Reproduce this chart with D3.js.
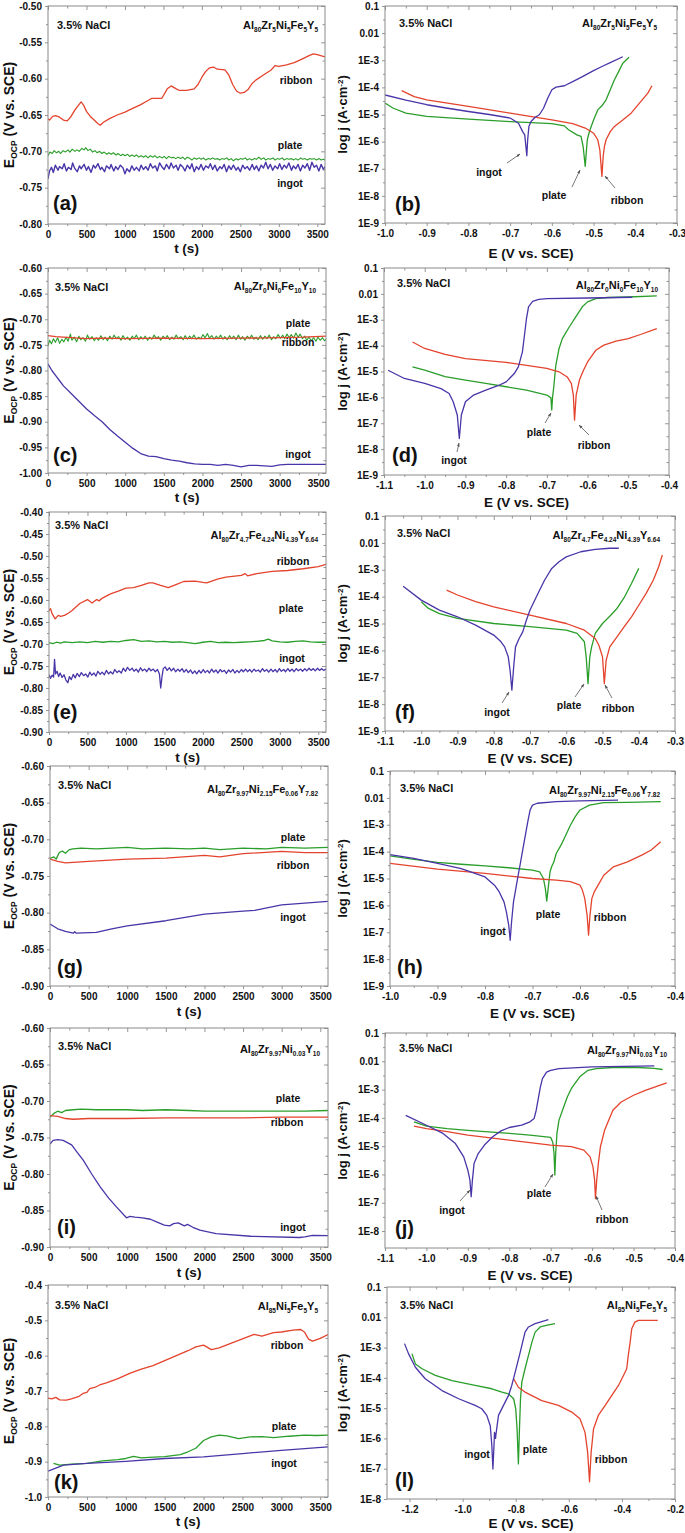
<!DOCTYPE html>
<html><head><meta charset="utf-8">
<script src="https://cdn.jsdelivr.net/npm/d3@7"></script>
<style>
body{margin:0;background:#fff;}
svg{display:block;}
</style></head><body>
<svg id="c" width="685" height="1533"></svg>
<script>
// ---------------- DATA ----------------
const series = ["ribbon","plate","ingot"];
const tTicks = [0,500,1000,1500,2000,2500,3000,3500];
const tMinor = [250,750,1250,1750,2250,2750,3250];

// (a) Al80Zr5Ni5Fe5Y5 OCP  [t (s), E (V)]
const aRibbon = [[0,-0.655],[20,-0.657],[60,-0.652],[100,-0.651],[150,-0.653],[200,-0.657],[250,-0.658],[300,-0.652],[350,-0.643],[400,-0.636],[430,-0.632],[460,-0.636],[500,-0.645],[550,-0.652],[600,-0.657],[650,-0.662],[680,-0.664],[720,-0.660],[800,-0.655],[900,-0.650],[1000,-0.646],[1100,-0.641],[1200,-0.636],[1300,-0.630],[1350,-0.627],[1400,-0.627],[1480,-0.627],[1550,-0.614],[1600,-0.610],[1650,-0.613],[1700,-0.616],[1800,-0.616],[1900,-0.614],[1950,-0.608],[2000,-0.598],[2050,-0.590],[2100,-0.585],[2150,-0.584],[2200,-0.587],[2300,-0.588],[2350,-0.595],[2400,-0.608],[2450,-0.617],[2500,-0.620],[2550,-0.619],[2600,-0.615],[2650,-0.607],[2700,-0.602],[2800,-0.595],[2900,-0.588],[2950,-0.582],[3000,-0.583],[3050,-0.582],[3100,-0.581],[3200,-0.578],[3300,-0.573],[3400,-0.568],[3450,-0.566],[3500,-0.567],[3600,-0.570]];
const aPlate = [[0,-0.706],[25,-0.701],[55,-0.703],[80,-0.699],[110,-0.702],[140,-0.700],[165,-0.703],[195,-0.699],[225,-0.701],[260,-0.698],[285,-0.701],[315,-0.697],[350,-0.700],[375,-0.698],[405,-0.700],[440,-0.696],[470,-0.698],[490,-0.695],[520,-0.699],[550,-0.697],[580,-0.701],[610,-0.699],[640,-0.702],[670,-0.700],[700,-0.703],[730,-0.701],[765,-0.704],[790,-0.702],[820,-0.704],[850,-0.702],[885,-0.705],[910,-0.703],[945,-0.706],[970,-0.704],[1000,-0.706],[1035,-0.704],[1060,-0.707],[1090,-0.705],[1125,-0.707],[1150,-0.705],[1180,-0.708],[1210,-0.706],[1245,-0.708],[1270,-0.706],[1300,-0.709],[1330,-0.706],[1365,-0.708],[1390,-0.706],[1420,-0.709],[1450,-0.707],[1485,-0.709],[1510,-0.707],[1540,-0.710],[1570,-0.707],[1605,-0.709],[1630,-0.708],[1660,-0.710],[1690,-0.708],[1725,-0.710],[1750,-0.708],[1780,-0.711],[1810,-0.708],[1845,-0.710],[1870,-0.712],[1900,-0.709],[1930,-0.711],[1965,-0.709],[1990,-0.711],[2020,-0.709],[2050,-0.712],[2085,-0.710],[2110,-0.711],[2140,-0.709],[2170,-0.711],[2205,-0.710],[2230,-0.712],[2260,-0.710],[2290,-0.711],[2325,-0.709],[2350,-0.712],[2380,-0.710],[2410,-0.713],[2445,-0.710],[2470,-0.712],[2500,-0.710],[2530,-0.711],[2565,-0.709],[2590,-0.712],[2620,-0.710],[2650,-0.712],[2685,-0.710],[2710,-0.711],[2740,-0.708],[2770,-0.711],[2805,-0.709],[2830,-0.712],[2860,-0.710],[2890,-0.711],[2925,-0.709],[2950,-0.712],[2980,-0.710],[3010,-0.711],[3045,-0.709],[3070,-0.712],[3100,-0.710],[3130,-0.711],[3165,-0.710],[3190,-0.712],[3220,-0.710],[3250,-0.712],[3285,-0.709],[3310,-0.711],[3340,-0.710],[3370,-0.712],[3405,-0.710],[3430,-0.711],[3460,-0.710],[3490,-0.712],[3525,-0.710],[3550,-0.712],[3580,-0.711],[3600,-0.712]];
const aIngot = [[0,-0.738],[20,-0.727],[45,-0.722],[70,-0.729],[95,-0.719],[130,-0.726],[150,-0.721],[185,-0.724],[210,-0.717],[240,-0.727],[265,-0.722],[300,-0.725],[320,-0.716],[345,-0.723],[380,-0.728],[410,-0.720],[430,-0.724],[470,-0.718],[500,-0.726],[525,-0.721],[560,-0.729],[590,-0.719],[615,-0.723],[650,-0.717],[680,-0.725],[700,-0.722],[735,-0.728],[760,-0.720],[800,-0.724],[820,-0.718],[855,-0.727],[880,-0.721],[910,-0.725],[940,-0.719],[975,-0.723],[1000,-0.731],[1025,-0.724],[1060,-0.728],[1090,-0.720],[1120,-0.726],[1150,-0.722],[1185,-0.727],[1210,-0.719],[1240,-0.725],[1270,-0.721],[1300,-0.726],[1330,-0.717],[1360,-0.723],[1395,-0.720],[1420,-0.727],[1450,-0.716],[1485,-0.722],[1510,-0.725],[1540,-0.718],[1575,-0.724],[1600,-0.716],[1630,-0.723],[1665,-0.719],[1690,-0.726],[1720,-0.718],[1755,-0.722],[1780,-0.727],[1810,-0.719],[1845,-0.724],[1870,-0.717],[1900,-0.728],[1930,-0.721],[1960,-0.725],[1990,-0.718],[2020,-0.726],[2050,-0.720],[2085,-0.723],[2110,-0.717],[2140,-0.725],[2170,-0.719],[2200,-0.727],[2235,-0.721],[2260,-0.724],[2290,-0.718],[2320,-0.728],[2350,-0.720],[2380,-0.725],[2410,-0.719],[2445,-0.726],[2470,-0.722],[2500,-0.728],[2530,-0.719],[2560,-0.724],[2590,-0.721],[2620,-0.726],[2655,-0.718],[2680,-0.725],[2710,-0.720],[2740,-0.727],[2770,-0.719],[2800,-0.723],[2830,-0.715],[2860,-0.724],[2890,-0.718],[2920,-0.726],[2950,-0.720],[2985,-0.724],[3010,-0.717],[3040,-0.725],[3070,-0.719],[3100,-0.723],[3130,-0.716],[3165,-0.726],[3190,-0.720],[3220,-0.724],[3250,-0.718],[3280,-0.727],[3310,-0.719],[3340,-0.723],[3370,-0.717],[3400,-0.726],[3430,-0.715],[3460,-0.722],[3490,-0.719],[3520,-0.727],[3550,-0.718],[3580,-0.725],[3600,-0.721]];

// (c) Al80Zr0Ni0Fe10Y10 OCP
const cRibbon = [[0,-0.732],[100,-0.734],[200,-0.735],[300,-0.736],[500,-0.738],[700,-0.737],[1000,-0.738],[1500,-0.737],[2000,-0.738],[2500,-0.737],[3000,-0.736],[3300,-0.735],[3600,-0.733]];
const cPlate = [[0,-0.752],[20,-0.741],[45,-0.748],[70,-0.738],[95,-0.745],[125,-0.736],[150,-0.747],[180,-0.739],[205,-0.744],[235,-0.735],[260,-0.743],[290,-0.729],[310,-0.741],[340,-0.735],[370,-0.744],[400,-0.733],[425,-0.740],[455,-0.736],[485,-0.743],[510,-0.731],[540,-0.739],[570,-0.734],[600,-0.742],[625,-0.736],[655,-0.741],[685,-0.732],[715,-0.740],[740,-0.735],[770,-0.742],[800,-0.733],[830,-0.739],[855,-0.731],[885,-0.738],[915,-0.734],[945,-0.741],[970,-0.732],[1000,-0.739],[1030,-0.735],[1060,-0.741],[1090,-0.733],[1115,-0.738],[1145,-0.731],[1175,-0.740],[1200,-0.734],[1230,-0.739],[1260,-0.733],[1290,-0.741],[1315,-0.735],[1345,-0.739],[1375,-0.731],[1405,-0.738],[1430,-0.734],[1460,-0.741],[1490,-0.733],[1520,-0.738],[1545,-0.732],[1575,-0.740],[1605,-0.735],[1630,-0.739],[1660,-0.731],[1690,-0.738],[1720,-0.734],[1750,-0.740],[1775,-0.732],[1805,-0.739],[1835,-0.733],[1860,-0.738],[1890,-0.731],[1920,-0.739],[1950,-0.735],[1980,-0.738],[2005,-0.730],[2035,-0.736],[2065,-0.728],[2090,-0.737],[2120,-0.732],[2150,-0.739],[2180,-0.733],[2205,-0.738],[2235,-0.731],[2265,-0.739],[2290,-0.734],[2320,-0.740],[2350,-0.732],[2380,-0.738],[2405,-0.733],[2435,-0.740],[2465,-0.731],[2495,-0.739],[2520,-0.734],[2550,-0.741],[2580,-0.733],[2610,-0.738],[2635,-0.731],[2665,-0.739],[2695,-0.735],[2720,-0.740],[2750,-0.732],[2780,-0.739],[2810,-0.733],[2835,-0.738],[2865,-0.731],[2895,-0.740],[2920,-0.734],[2950,-0.738],[2980,-0.730],[3010,-0.737],[3040,-0.731],[3065,-0.738],[3095,-0.729],[3125,-0.736],[3150,-0.730],[3180,-0.737],[3210,-0.727],[3240,-0.735],[3265,-0.729],[3295,-0.738],[3325,-0.733],[3350,-0.741],[3380,-0.735],[3410,-0.742],[3440,-0.736],[3470,-0.743],[3495,-0.735],[3525,-0.741],[3555,-0.736],[3580,-0.742],[3600,-0.739]];
const cIngot = [[0,-0.787],[50,-0.800],[100,-0.810],[150,-0.820],[200,-0.830],[300,-0.845],[400,-0.860],[500,-0.875],[600,-0.888],[700,-0.900],[800,-0.915],[900,-0.928],[1000,-0.940],[1100,-0.952],[1200,-0.962],[1300,-0.967],[1400,-0.968],[1500,-0.972],[1600,-0.975],[1700,-0.977],[1800,-0.980],[1900,-0.982],[2000,-0.983],[2100,-0.983],[2200,-0.985],[2300,-0.983],[2400,-0.985],[2500,-0.988],[2600,-0.985],[2700,-0.985],[2800,-0.986],[2900,-0.987],[3000,-0.984],[3100,-0.983],[3200,-0.983],[3400,-0.983],[3600,-0.983]];

// (e) Al80Zr4.7Fe4.24Ni4.39Y6.64 OCP
const eRibbon = [[0,-0.624],[20,-0.620],[40,-0.631],[80,-0.643],[120,-0.635],[150,-0.637],[200,-0.635],[250,-0.630],[300,-0.624],[400,-0.608],[500,-0.599],[560,-0.607],[620,-0.599],[650,-0.602],[700,-0.595],[800,-0.586],[900,-0.580],[1000,-0.573],[1100,-0.572],[1200,-0.567],[1300,-0.561],[1350,-0.561],[1450,-0.567],[1550,-0.572],[1650,-0.565],[1750,-0.558],[1900,-0.557],[2000,-0.560],[2050,-0.561],[2200,-0.552],[2300,-0.548],[2500,-0.544],[2550,-0.540],[2580,-0.545],[2700,-0.540],[2900,-0.535],[3100,-0.533],[3300,-0.529],[3500,-0.524],[3600,-0.519]];
const ePlate = [[0,-0.697],[50,-0.699],[100,-0.696],[150,-0.698],[200,-0.695],[300,-0.697],[400,-0.695],[500,-0.697],[600,-0.694],[700,-0.696],[800,-0.694],[900,-0.695],[1000,-0.692],[1100,-0.690],[1200,-0.694],[1300,-0.693],[1400,-0.695],[1500,-0.694],[1600,-0.696],[1700,-0.695],[1800,-0.697],[1900,-0.699],[2000,-0.696],[2100,-0.694],[2200,-0.697],[2300,-0.696],[2400,-0.697],[2500,-0.696],[2600,-0.695],[2700,-0.694],[2800,-0.692],[2850,-0.689],[2900,-0.693],[3000,-0.695],[3100,-0.696],[3200,-0.694],[3300,-0.693],[3400,-0.695],[3500,-0.696],[3600,-0.696]];
const eIngot = [[0,-0.770],[20,-0.778],[40,-0.771],[60,-0.775],[72,-0.735],[85,-0.768],[105,-0.762],[125,-0.774],[145,-0.766],[170,-0.776],[195,-0.770],[220,-0.782],[245,-0.788],[265,-0.774],[290,-0.781],[315,-0.769],[340,-0.777],[365,-0.767],[395,-0.774],[420,-0.765],[450,-0.772],[475,-0.768],[505,-0.775],[530,-0.764],[555,-0.771],[585,-0.766],[610,-0.773],[635,-0.762],[665,-0.769],[690,-0.764],[720,-0.770],[745,-0.760],[775,-0.768],[800,-0.763],[830,-0.768],[855,-0.758],[885,-0.765],[910,-0.761],[940,-0.766],[965,-0.755],[995,-0.762],[1020,-0.753],[1050,-0.760],[1080,-0.755],[1105,-0.762],[1135,-0.757],[1160,-0.764],[1190,-0.754],[1215,-0.761],[1245,-0.757],[1270,-0.763],[1300,-0.755],[1325,-0.761],[1355,-0.757],[1380,-0.763],[1410,-0.758],[1435,-0.768],[1452,-0.800],[1468,-0.775],[1485,-0.756],[1510,-0.752],[1535,-0.760],[1565,-0.754],[1590,-0.761],[1620,-0.755],[1645,-0.763],[1675,-0.757],[1700,-0.762],[1730,-0.756],[1755,-0.764],[1785,-0.758],[1810,-0.765],[1840,-0.759],[1865,-0.767],[1895,-0.761],[1920,-0.768],[1950,-0.760],[1975,-0.766],[2005,-0.758],[2030,-0.765],[2060,-0.760],[2085,-0.766],[2115,-0.757],[2140,-0.764],[2170,-0.759],[2195,-0.766],[2225,-0.758],[2250,-0.763],[2280,-0.760],[2305,-0.767],[2335,-0.759],[2360,-0.764],[2390,-0.758],[2415,-0.766],[2445,-0.760],[2470,-0.765],[2500,-0.758],[2525,-0.763],[2555,-0.757],[2580,-0.763],[2610,-0.758],[2635,-0.764],[2665,-0.757],[2690,-0.762],[2720,-0.759],[2745,-0.764],[2775,-0.756],[2800,-0.762],[2830,-0.758],[2855,-0.764],[2885,-0.757],[2910,-0.763],[2940,-0.758],[2965,-0.764],[2995,-0.756],[3020,-0.762],[3050,-0.758],[3075,-0.763],[3105,-0.756],[3130,-0.762],[3160,-0.757],[3185,-0.763],[3215,-0.756],[3240,-0.761],[3270,-0.757],[3295,-0.762],[3325,-0.756],[3350,-0.761],[3380,-0.755],[3405,-0.760],[3435,-0.756],[3460,-0.761],[3490,-0.755],[3515,-0.760],[3545,-0.756],[3570,-0.760],[3600,-0.757]];

// (g) Al80Zr9.97Ni2.15Fe0.06Y7.82 OCP
const gRibbon = [[0,-0.727],[100,-0.730],[200,-0.732],[500,-0.730],[1000,-0.727],[1500,-0.7255],[2000,-0.722],[2200,-0.724],[2500,-0.7196],[3000,-0.7165],[3300,-0.718],[3600,-0.718]];
const gPlate = [[0,-0.726],[50,-0.724],[80,-0.727],[120,-0.718],[160,-0.716],[200,-0.719],[250,-0.714],[300,-0.713],[400,-0.712],[600,-0.713],[800,-0.712],[1000,-0.711],[1200,-0.713],[1500,-0.712],[1800,-0.713],[2000,-0.712],[2200,-0.714],[2500,-0.712],[2800,-0.713],[3000,-0.711],[3300,-0.712],[3600,-0.711]];
const gIngot = [[0,-0.8155],[100,-0.822],[200,-0.8255],[300,-0.828],[320,-0.826],[340,-0.828],[600,-0.827],[800,-0.822],[1000,-0.818],[1500,-0.811],[2000,-0.802],[2500,-0.798],[2650,-0.797],[3000,-0.7895],[3600,-0.7845]];

// (i) Al80Zr9.97Ni0.03Y10 OCP
const iRibbon = [[0,-0.720],[100,-0.721],[200,-0.724],[300,-0.725],[500,-0.724],[1000,-0.724],[1500,-0.723],[2000,-0.723],[2500,-0.723],[3000,-0.722],[3600,-0.722]];
const iPlate = [[0,-0.722],[50,-0.717],[100,-0.714],[150,-0.716],[200,-0.713],[300,-0.712],[400,-0.711],[600,-0.712],[800,-0.712],[1000,-0.712],[1200,-0.713],[1500,-0.712],[1800,-0.713],[2000,-0.714],[2200,-0.714],[2500,-0.714],[2800,-0.714],[3000,-0.714],[3300,-0.714],[3600,-0.713]];
const iIngot = [[0,-0.759],[40,-0.754],[100,-0.753],[170,-0.754],[280,-0.760],[350,-0.770],[430,-0.781],[540,-0.800],[650,-0.8175],[760,-0.833],[860,-0.845],[990,-0.860],[1035,-0.858],[1100,-0.859],[1200,-0.860],[1300,-0.862],[1380,-0.8657],[1480,-0.870],[1550,-0.871],[1600,-0.868],[1660,-0.867],[1740,-0.871],[1780,-0.869],[1850,-0.873],[1940,-0.877],[2150,-0.8817],[2600,-0.8853],[3230,-0.887],[3300,-0.886],[3400,-0.884],[3600,-0.8845]];

// (k) Al85Ni5Fe5Y5 OCP
const kRibbon = [[0,-0.72],[50,-0.722],[100,-0.718],[150,-0.725],[236,-0.726],[300,-0.722],[400,-0.715],[450,-0.707],[500,-0.704],[536,-0.693],[600,-0.690],[664,-0.683],[750,-0.677],[900,-0.665],[1050,-0.650],[1200,-0.638],[1350,-0.628],[1500,-0.614],[1650,-0.600],[1800,-0.586],[1900,-0.575],[2000,-0.570],[2100,-0.583],[2200,-0.578],[2350,-0.565],[2450,-0.557],[2550,-0.548],[2650,-0.540],[2750,-0.545],[2900,-0.535],[3000,-0.533],[3150,-0.528],[3250,-0.526],[3300,-0.534],[3350,-0.553],[3400,-0.559],[3500,-0.551],[3600,-0.540]];
const kPlate = [[70,-0.905],[150,-0.910],[300,-0.907],[500,-0.905],[700,-0.898],[900,-0.894],[1000,-0.891],[1100,-0.885],[1200,-0.889],[1300,-0.888],[1500,-0.886],[1700,-0.880],[1800,-0.872],[1900,-0.862],[2000,-0.840],[2100,-0.830],[2200,-0.825],[2300,-0.827],[2450,-0.835],[2600,-0.830],[2750,-0.829],[2900,-0.832],[3100,-0.828],[3300,-0.825],[3450,-0.826],[3600,-0.825]];
const kIngot = [[0,-0.927],[100,-0.918],[200,-0.910],[500,-0.905],[1000,-0.899],[1500,-0.891],[2000,-0.8866],[2500,-0.877],[3000,-0.868],[3600,-0.858]];

// Polarization curves  [E (V vs SCE), log10 j (A/cm2)]
const bRibbon = [[-0.96,-4.12],[-0.93,-4.34],[-0.9,-4.46],[-0.85,-4.58],[-0.8,-4.7],[-0.7,-4.95],[-0.6,-5.2],[-0.55,-5.34],[-0.52,-5.5],[-0.50,-5.69],[-0.49,-5.93],[-0.485,-6.3],[-0.48,-7.28],[-0.477,-6.55],[-0.474,-6.18],[-0.47,-5.93],[-0.46,-5.63],[-0.45,-5.44],[-0.43,-5.2],[-0.41,-4.95],[-0.39,-4.58],[-0.37,-4.21],[-0.36,-3.94]];
const bPlate = [[-1.0,-4.58],[-0.98,-4.77],[-0.95,-4.95],[-0.9,-5.07],[-0.8,-5.17],[-0.7,-5.26],[-0.6,-5.34],[-0.57,-5.42],[-0.56,-5.56],[-0.54,-5.75],[-0.53,-5.81],[-0.525,-6.18],[-0.52,-6.91],[-0.517,-6.3],[-0.515,-5.93],[-0.51,-5.63],[-0.5,-5.2],[-0.49,-4.83],[-0.48,-4.68],[-0.47,-4.46],[-0.46,-4.09],[-0.45,-3.72],[-0.44,-3.42],[-0.43,-3.11],[-0.415,-2.89]];
const bIngot = [[-1.0,-4.28],[-0.95,-4.47],[-0.9,-4.64],[-0.85,-4.77],[-0.8,-4.89],[-0.75,-5.0],[-0.7,-5.13],[-0.68,-5.32],[-0.67,-5.63],[-0.665,-5.75],[-0.663,-6.06],[-0.66,-6.52],[-0.658,-5.93],[-0.655,-5.44],[-0.65,-5.26],[-0.64,-5.1],[-0.63,-5.01],[-0.62,-4.77],[-0.61,-4.4],[-0.60,-4.09],[-0.59,-3.99],[-0.57,-3.94],[-0.55,-3.79],[-0.53,-3.63],[-0.50,-3.38],[-0.48,-3.23],[-0.46,-3.09],[-0.43,-2.87]];

const dRibbon = [[-1.03,-3.86],[-1.0,-4.11],[-0.95,-4.34],[-0.9,-4.5],[-0.8,-4.65],[-0.7,-4.88],[-0.67,-5.01],[-0.65,-5.21],[-0.64,-5.46],[-0.635,-5.91],[-0.632,-6.88],[-0.628,-5.91],[-0.62,-5.33],[-0.61,-4.95],[-0.60,-4.63],[-0.58,-4.18],[-0.56,-3.98],[-0.53,-3.83],[-0.50,-3.73],[-0.47,-3.57],[-0.43,-3.34]];
const dPlate = [[-1.03,-4.82],[-1.0,-4.95],[-0.95,-5.2],[-0.9,-5.33],[-0.85,-5.46],[-0.8,-5.59],[-0.75,-5.72],[-0.70,-5.91],[-0.69,-6.02],[-0.688,-6.49],[-0.686,-6.0],[-0.683,-5.6],[-0.678,-4.76],[-0.67,-4.11],[-0.662,-3.73],[-0.645,-3.28],[-0.629,-2.89],[-0.613,-2.5],[-0.60,-2.31],[-0.58,-2.18],[-0.55,-2.14],[-0.5,-2.12],[-0.43,-2.08]];
const dIngot = [[-1.09,-4.95],[-1.05,-5.27],[-1.0,-5.46],[-0.96,-5.66],[-0.94,-5.85],[-0.93,-6.17],[-0.92,-6.68],[-0.915,-7.59],[-0.91,-6.68],[-0.9,-6.17],[-0.88,-5.91],[-0.85,-5.72],[-0.82,-5.55],[-0.80,-5.4],[-0.78,-5.08],[-0.77,-4.82],[-0.76,-4.24],[-0.755,-3.6],[-0.75,-2.95],[-0.745,-2.5],[-0.735,-2.29],[-0.72,-2.21],[-0.7,-2.18],[-0.6,-2.16],[-0.49,-2.13]];

const fRibbon = [[-0.93,-3.76],[-0.9,-3.94],[-0.85,-4.19],[-0.8,-4.38],[-0.7,-4.69],[-0.6,-5.0],[-0.55,-5.25],[-0.52,-5.56],[-0.51,-5.81],[-0.50,-6.24],[-0.495,-7.24],[-0.49,-6.37],[-0.48,-5.87],[-0.46,-5.5],[-0.44,-5.12],[-0.42,-4.75],[-0.40,-4.32],[-0.38,-3.89],[-0.36,-3.39],[-0.345,-2.89],[-0.335,-2.45]];
const fPlate = [[-1.0,-4.19],[-0.98,-4.44],[-0.95,-4.63],[-0.9,-4.81],[-0.8,-5.0],[-0.7,-5.12],[-0.6,-5.25],[-0.57,-5.37],[-0.55,-5.68],[-0.545,-6.24],[-0.54,-7.24],[-0.535,-6.24],[-0.53,-5.87],[-0.52,-5.37],[-0.50,-5.0],[-0.48,-4.73],[-0.46,-4.44],[-0.44,-4.03],[-0.42,-3.51],[-0.40,-2.95]];
const fIngot = [[-1.05,-3.61],[-1.0,-4.13],[-0.95,-4.5],[-0.9,-4.75],[-0.85,-5.06],[-0.80,-5.43],[-0.78,-5.68],[-0.77,-5.87],[-0.76,-6.24],[-0.755,-6.74],[-0.75,-7.48],[-0.745,-6.61],[-0.74,-5.87],[-0.73,-5.56],[-0.72,-5.31],[-0.71,-4.88],[-0.70,-4.5],[-0.68,-3.94],[-0.66,-3.39],[-0.64,-2.95],[-0.62,-2.7],[-0.60,-2.52],[-0.56,-2.33],[-0.52,-2.24],[-0.48,-2.2],[-0.455,-2.2]];

const hRibbon = [[-1.0,-4.44],[-0.9,-4.65],[-0.8,-4.81],[-0.7,-5.0],[-0.65,-5.06],[-0.62,-5.12],[-0.60,-5.25],[-0.595,-5.43],[-0.59,-5.74],[-0.585,-6.37],[-0.582,-7.11],[-0.579,-6.37],[-0.575,-5.74],[-0.57,-5.5],[-0.56,-5.19],[-0.55,-4.88],[-0.53,-4.57],[-0.5,-4.38],[-0.47,-4.13],[-0.45,-3.94],[-0.43,-3.63]];
const hPlate = [[-1.0,-4.16],[-0.95,-4.29],[-0.9,-4.4],[-0.85,-4.47],[-0.8,-4.53],[-0.75,-4.6],[-0.7,-4.69],[-0.685,-4.75],[-0.677,-5.0],[-0.673,-5.37],[-0.67,-5.84],[-0.667,-5.37],[-0.663,-4.75],[-0.66,-4.57],[-0.655,-4.38],[-0.65,-4.07],[-0.64,-3.76],[-0.63,-3.39],[-0.62,-3.01],[-0.61,-2.7],[-0.60,-2.45],[-0.58,-2.27],[-0.55,-2.18],[-0.5,-2.17],[-0.43,-2.14]];
const hIngot = [[-1.0,-4.11],[-0.95,-4.25],[-0.9,-4.44],[-0.85,-4.63],[-0.8,-4.94],[-0.78,-5.25],[-0.77,-5.5],[-0.76,-5.87],[-0.755,-6.24],[-0.75,-6.74],[-0.747,-7.3],[-0.744,-6.6],[-0.74,-5.87],[-0.735,-5.37],[-0.73,-4.86],[-0.725,-4.38],[-0.72,-3.88],[-0.715,-3.39],[-0.71,-2.89],[-0.705,-2.45],[-0.70,-2.27],[-0.69,-2.2],[-0.65,-2.14],[-0.6,-2.11],[-0.52,-2.08]];

const jRibbon = [[-1.03,-4.29],[-1.0,-4.38],[-0.95,-4.49],[-0.9,-4.61],[-0.8,-4.79],[-0.7,-4.96],[-0.65,-5.02],[-0.62,-5.14],[-0.605,-5.38],[-0.598,-5.73],[-0.594,-6.2],[-0.592,-6.85],[-0.589,-6.2],[-0.585,-5.61],[-0.58,-5.02],[-0.57,-4.44],[-0.56,-4.08],[-0.55,-3.73],[-0.53,-3.44],[-0.50,-3.2],[-0.47,-3.02],[-0.42,-2.76]];
const jPlate = [[-1.03,-4.14],[-1.0,-4.29],[-0.95,-4.38],[-0.9,-4.44],[-0.8,-4.55],[-0.75,-4.61],[-0.70,-4.69],[-0.695,-4.86],[-0.692,-5.26],[-0.69,-6.02],[-0.688,-5.26],[-0.685,-4.55],[-0.68,-4.08],[-0.67,-3.67],[-0.66,-3.26],[-0.65,-2.96],[-0.63,-2.55],[-0.61,-2.32],[-0.59,-2.26],[-0.55,-2.22],[-0.5,-2.21],[-0.45,-2.25],[-0.43,-2.29]];
const jIngot = [[-1.05,-3.91],[-1.0,-4.26],[-0.96,-4.55],[-0.93,-4.91],[-0.91,-5.38],[-0.90,-5.85],[-0.895,-6.2],[-0.892,-6.79],[-0.889,-6.2],[-0.885,-5.61],[-0.875,-5.26],[-0.86,-4.96],[-0.84,-4.67],[-0.82,-4.46],[-0.80,-4.34],[-0.77,-4.26],[-0.75,-4.14],[-0.74,-4.02],[-0.735,-3.73],[-0.73,-3.32],[-0.725,-2.91],[-0.72,-2.61],[-0.71,-2.38],[-0.70,-2.32],[-0.68,-2.26],[-0.6,-2.2],[-0.45,-2.16]];

const lRibbon = [[-0.808,-4.03],[-0.790,-4.31],[-0.765,-4.47],[-0.702,-4.75],[-0.639,-4.91],[-0.589,-5.13],[-0.558,-5.35],[-0.539,-5.8],[-0.529,-6.46],[-0.522,-7.43],[-0.516,-6.46],[-0.507,-5.69],[-0.489,-5.24],[-0.463,-4.91],[-0.438,-4.58],[-0.413,-4.25],[-0.394,-3.92],[-0.382,-3.7],[-0.376,-3.26],[-0.369,-2.82],[-0.363,-2.38],[-0.351,-2.16],[-0.338,-2.1],[-0.265,-2.1]];
const lPlate = [[-1.191,-3.2],[-1.178,-3.54],[-1.153,-3.7],[-1.103,-3.92],[-1.040,-4.09],[-0.953,-4.25],[-0.890,-4.36],[-0.852,-4.47],[-0.827,-4.53],[-0.808,-4.69],[-0.800,-5.02],[-0.795,-5.69],[-0.790,-6.84],[-0.786,-5.69],[-0.782,-4.69],[-0.777,-4.14],[-0.765,-3.7],[-0.752,-3.26],[-0.739,-2.82],[-0.727,-2.49],[-0.708,-2.32],[-0.677,-2.25],[-0.652,-2.21]];
const lIngot = [[-1.219,-2.87],[-1.204,-3.2],[-1.178,-3.65],[-1.141,-4.03],[-1.078,-4.42],[-1.015,-4.69],[-0.953,-4.91],[-0.928,-5.02],[-0.909,-5.24],[-0.896,-5.58],[-0.890,-6.24],[-0.886,-7.01],[-0.882,-6.24],[-0.880,-5.8],[-0.876,-6.0],[-0.875,-5.9],[-0.865,-5.24],[-0.840,-4.8],[-0.827,-4.58],[-0.815,-4.25],[-0.802,-3.81],[-0.783,-3.15],[-0.765,-2.49],[-0.752,-2.32],[-0.727,-2.21],[-0.702,-2.14],[-0.677,-2.08]];

// compositions
const compA = [["Al","80"],["Zr","5"],["Ni","5"],["Fe","5"],["Y","5"]];
const compC = [["Al","80"],["Zr","0"],["Ni","0"],["Fe","10"],["Y","10"]];
const compE = [["Al","80"],["Zr","4.7"],["Fe","4.24"],["Ni","4.39"],["Y","6.64"]];
const compG = [["Al","80"],["Zr","9.97"],["Ni","2.15"],["Fe","0.06"],["Y","7.82"]];
const compI = [["Al","80"],["Zr","9.97"],["Ni","0.03"],["Y","10"]];
const compK = [["Al","85"],["Ni","5"],["Fe","5"],["Y","5"]];

// tick values
const yTicksA = [-0.80,-0.75,-0.70,-0.65,-0.60,-0.55,-0.50];
const yTicksC = [-1.00,-0.95,-0.90,-0.85,-0.80,-0.75,-0.70,-0.65,-0.60];
const yTicksE = [-0.90,-0.85,-0.80,-0.75,-0.70,-0.65,-0.60,-0.55,-0.50,-0.45,-0.40];
const yTicksG = [-0.90,-0.85,-0.80,-0.75,-0.70,-0.65,-0.60];
const yTicksK = [-1.0,-0.9,-0.8,-0.7,-0.6,-0.5,-0.4];
const logTicks9 = [-9,-8,-7,-6,-5,-4,-3,-2,-1];
const logTicks8 = [-8,-7,-6,-5,-4,-3,-2,-1];
const eTicksB = [-1.0,-0.9,-0.8,-0.7,-0.6,-0.5,-0.4,-0.3];
const eTicksD = [-1.1,-1.0,-0.9,-0.8,-0.7,-0.6,-0.5,-0.4];
const eTicksF = [-1.1,-1.0,-0.9,-0.8,-0.7,-0.6,-0.5,-0.4,-0.3];
const eTicksH = [-1.0,-0.9,-0.8,-0.7,-0.6,-0.5,-0.4];
const eTicksL = [-1.2,-1.0,-0.8,-0.6,-0.4,-0.2];
const eMinorL = [-1.1,-0.9,-0.7,-0.5,-0.3];

// ---------------- DRAWING ----------------
const COLOR = {ribbon:"#e4432d", plate:"#2a9e2a", ingot:"#4a35a8"};
const FRAME = "#8a8a8a";
const FONT = "'Liberation Sans', Arial, sans-serif";
const svg = d3.select("#c");
svg.append("rect").attr("width",685).attr("height",1533).attr("fill","#fff");
const defs = svg.append("defs");
defs.append("marker").attr("id","arr").attr("viewBox","0 0 10 10").attr("refX",9).attr("refY",5)
  .attr("markerWidth",5).attr("markerHeight",5).attr("orient","auto")
  .append("path").attr("d","M0,1.5 L10,5 L0,8.5 z").attr("fill","#555");

function styleAxis(sel, fs){
  sel.select(".domain").remove();
  sel.selectAll("line").attr("stroke",FRAME).attr("stroke-width",0.9);
  sel.selectAll("text").attr("fill","#111").style("font-size",fs+"px").style("font-weight","bold").style("font-family",FONT);
}
function mids(arr){ return d3.pairs(arr).map(p=>(p[0]+p[1])/2); }

function boxAxes(g, x, y, r, xt, xm, yt, ym, xf, yf){
  const [x0,x1,y0,y1] = r;
  g.append("rect").attr("x",x0).attr("y",y0).attr("width",x1-x0).attr("height",y1-y0)
    .attr("fill","none").attr("stroke",FRAME).attr("stroke-width",1);
  const inX = v => x(v) >= x0-0.5 && x(v) <= x1+0.5;
  const xtIn = xt.filter(inX), xmIn = xm.filter(inX);
  styleAxis(g.append("g").attr("transform",`translate(0,${y1})`).call(d3.axisBottom(x).tickValues(xt).tickSize(3).tickPadding(4).tickFormat(xf)),10);
  g.selectAll(".tick").filter(function(d){ return !inX(d); }).select("line").remove();
  styleAxis(g.append("g").attr("transform",`translate(0,${y1})`).call(d3.axisBottom(x).tickValues(xmIn).tickSize(2).tickFormat("")),10);
  styleAxis(g.append("g").attr("transform",`translate(0,${y0})`).call(d3.axisBottom(x).tickValues(xtIn).tickSize(4).tickFormat("")),10);
  styleAxis(g.append("g").attr("transform",`translate(0,${y0})`).call(d3.axisBottom(x).tickValues(xmIn).tickSize(2.5).tickFormat("")),10);
  styleAxis(g.append("g").attr("transform",`translate(${x0},0)`).call(d3.axisLeft(y).tickValues(yt).tickSize(3).tickPadding(3).tickFormat(yf)),10);
  styleAxis(g.append("g").attr("transform",`translate(${x0},0)`).call(d3.axisLeft(y).tickValues(ym).tickSize(2).tickFormat("")),10);
  styleAxis(g.append("g").attr("transform",`translate(${x1},0)`).call(d3.axisLeft(y).tickValues(yt).tickSize(4).tickFormat("")),10);
  styleAxis(g.append("g").attr("transform",`translate(${x1},0)`).call(d3.axisLeft(y).tickValues(ym).tickSize(2.5).tickFormat("")),10);
}

function txt(g, x, y, s, fs, anchor){
  return g.append("text").attr("x",x).attr("y",y).attr("text-anchor",anchor||"start")
    .style("font-family",FONT).style("font-weight","bold").style("font-size",fs+"px").attr("fill","#111").text(s);
}
function composition(g, xr, yb, parts){
  const t = g.append("text").attr("x",xr).attr("y",yb).attr("text-anchor","end")
    .style("font-family",FONT).style("font-weight","bold").style("font-size","11px").attr("fill","#111");
  let down = false;
  parts.forEach(([el,sub])=>{
    t.append("tspan").attr("dy", down ? -3 : 0).text(el);
    t.append("tspan").attr("dy", 3).style("font-size","6.5px").text(sub);
    down = true;
  });
}
function xTitle(g, cx, yb, s){ txt(g, cx, yb, s, 13.5, "middle"); }

let clipN = 0;
function drawLines(g, x, y, r, data, order, widths){
  const id = "clip"+(clipN++);
  g.append("clipPath").attr("id",id).append("rect").attr("x",r[0]).attr("y",r[2]).attr("width",r[1]-r[0]).attr("height",r[3]-r[2]);
  const pg = g.append("g").attr("clip-path",`url(#${id})`);
  const line = d3.line().x(d=>x(d[0])).y(d=>y(d[1]));
  order.forEach(k=>{
    pg.append("path").attr("d",line(data[k])).attr("fill","none").attr("stroke",COLOR[k])
      .attr("stroke-width",(widths&&widths[k])||1.3).attr("stroke-linejoin","round");
  });
}

function ocpPanel(p){
  const g = svg.append("g");
  const [x0,x1,y0,y1] = p.r;
  const x = d3.scaleLinear().domain([0,3600]).range([x0,x1]);
  const y = d3.scaleLinear().domain([p.yt[0], p.yt[p.yt.length-1]]).range([y1,y0]);
  drawLines(g, x, y, p.r, p.data, p.order || ["plate","ribbon","ingot"], p.widths);
  boxAxes(g, x, y, p.r, tTicks, tMinor, p.yt, mids(p.yt), d=>d, d=>d.toFixed(p.dec));
  xTitle(g, (x0+x1)/2, p.xtY, "t (s)");
  const yt = g.append("text").attr("transform",`translate(14,${(y0+y1)/2}) rotate(-90)`).attr("text-anchor","middle")
    .style("font-family",FONT).style("font-weight","bold").style("font-size","14px").attr("fill","#111");
  yt.append("tspan").text("E");
  yt.append("tspan").attr("dy",3).style("font-size","8.5px").text("OCP");
  yt.append("tspan").attr("dy",-3).text(" (V vs. SCE)");
  txt(g, p.nacl[0], p.nacl[1], "3.5% NaCl", 11);
  composition(g, p.comp[0], p.comp[1], p.compParts);
  txt(g, p.letter[0], p.letter[1], p.letterText, 20);
  series.forEach(k=>{ const L = p.labels[k]; txt(g, L[0], L[1], k, 10.5, "middle"); });
}

function polPanel(p){
  const g = svg.append("g");
  const [x0,x1,y0,y1] = p.r;
  const x = d3.scaleLinear().domain(p.xDom).range([x0,x1]);
  const y = d3.scaleLinear().domain(p.yDom).range([y1,y0]);
  drawLines(g, x, y, p.r, p.data, ["plate","ribbon","ingot"]);
  const xm = p.xMinor || mids(p.xt);
  const ym = mids(p.yt);
  boxAxes(g, x, y, p.r, p.xt, xm, p.yt, ym, d=>d.toFixed(1), d=> d===-1?"0.1": d===-2?"0.01":"1E"+d);
  xTitle(g, (x0+x1)/2, p.xtY, "E (V vs. SCE)");
  const yt = g.append("text").attr("transform",`translate(347,${(y0+y1)/2}) rotate(-90)`).attr("text-anchor","middle")
    .style("font-family",FONT).style("font-weight","bold").style("font-size","13px").attr("fill","#111");
  yt.append("tspan").text("log j (A\u00b7cm");
  yt.append("tspan").attr("dy",-4).style("font-size","8px").text("-2");
  yt.append("tspan").attr("dy",4).text(")");
  txt(g, p.nacl[0], p.nacl[1], "3.5% NaCl", 11);
  composition(g, p.comp[0], p.comp[1], p.compParts);
  txt(g, p.letter[0], p.letter[1], p.letterText, 20);
  series.forEach(k=>{
    const L = p.labels[k];
    txt(g, L[0], L[1], k, 10.5, "middle");
    if (L.length > 2) {
      g.append("line").attr("x1",L[2]).attr("y1",L[3]).attr("x2",L[4]).attr("y2",L[5])
        .attr("stroke","#555").attr("stroke-width",0.8).attr("marker-end","url(#arr)");
    }
  });
}

// ---- left column: OCP ----
ocpPanel({r:[48,325,6,224], yt:yTicksA, dec:2, xtY:253,
  data:{ribbon:aRibbon, plate:aPlate, ingot:aIngot}, widths:{plate:1.1, ingot:1.4},
  nacl:[57,29], comp:[318,29], compParts:compA, letter:[53,210], letterText:"(a)",
  labels:{ribbon:[296,84], plate:[290,149], ingot:[290,187]}});
ocpPanel({r:[48,326,268,473], yt:yTicksC, dec:2, xtY:502, order:["plate","ribbon","ingot"],
  data:{ribbon:cRibbon, plate:cPlate, ingot:cIngot}, widths:{plate:1.1},
  nacl:[55,291], comp:[316,290], compParts:compC, letter:[53,462], letterText:"(c)",
  labels:{plate:[298,327], ribbon:[298,346], ingot:[298,458]}});
ocpPanel({r:[49,326,512,732], yt:yTicksE, dec:2, xtY:762,
  data:{ribbon:eRibbon, plate:ePlate, ingot:eIngot}, widths:{ingot:1.3},
  nacl:[55,529], comp:[318,539], compParts:compE, letter:[53,719], letterText:"(e)",
  labels:{ribbon:[293,565], plate:[291,612], ingot:[292,662]}});
ocpPanel({r:[50,328,766,986], yt:yTicksG, dec:2, xtY:1016,
  data:{ribbon:gRibbon, plate:gPlate, ingot:gIngot},
  nacl:[58,789], comp:[318,793], compParts:compG, letter:[57,974], letterText:"(g)",
  labels:{plate:[293,841], ribbon:[293,869], ingot:[293,921]}});
ocpPanel({r:[50,328,1028,1247], yt:yTicksG, dec:2, xtY:1277,
  data:{ribbon:iRibbon, plate:iPlate, ingot:iIngot},
  nacl:[58,1050], comp:[320,1053], compParts:compI, letter:[57,1234], letterText:"(i)",
  labels:{plate:[288,1102], ribbon:[287,1126], ingot:[293,1231]}});
ocpPanel({r:[48,328,1285,1497], yt:yTicksK, dec:1, xtY:1526,
  data:{ribbon:kRibbon, plate:kPlate, ingot:kIngot},
  nacl:[55,1309], comp:[318,1310], compParts:compK, letter:[54,1489], letterText:"(k)",
  labels:{ribbon:[287,1349], plate:[284,1430], ingot:[284,1467]}});

// ---- right column: polarization ----
polPanel({r:[385,677,6,223], xDom:[-1.0,-0.3], xt:eTicksB, yDom:[-9,-1], yt:logTicks9, xtY:258,
  data:{ribbon:bRibbon, plate:bPlate, ingot:bIngot},
  nacl:[399,27], comp:[657,27], compParts:compA, letter:[395,211], letterText:"(b)",
  labels:{ingot:[489,176,507,163,520,154], plate:[554,199,572,187,580,170], ribbon:[627,204,615,188,605,176]}});
polPanel({r:[384,669,268,475], xDom:[-1.1,-0.4], xt:eTicksD, yDom:[-9,-1], yt:logTicks9, xtY:507,
  data:{ribbon:dRibbon, plate:dPlate, ingot:dIngot},
  nacl:[397,287], comp:[658,289], compParts:compC, letter:[392,462], letterText:"(d)",
  labels:{ingot:[454,464,457,452,459,443], plate:[539,436,545,423,551,413], ribbon:[594,449,589,435,579,425]}});
polPanel({r:[385,675,516,731], xDom:[-1.1,-0.3], xt:eTicksF, yDom:[-9,-1], yt:logTicks9, xtY:763,
  data:{ribbon:fRibbon, plate:fPlate, ingot:fIngot},
  nacl:[397,537], comp:[660,539], compParts:compE, letter:[395,719], letterText:"(f)",
  labels:{ingot:[497,716,502,703,509,692], plate:[569,709,575,697,584,684], ribbon:[618,712,612,698,605,685]}});
polPanel({r:[390,675,771,986], xDom:[-1.0,-0.4], xt:eTicksH, yDom:[-9,-1], yt:logTicks9, xtY:1018,
  data:{ribbon:hRibbon, plate:hPlate, ingot:hIngot},
  nacl:[400,792], comp:[660,794], compParts:compG, letter:[397,974], letterText:"(h)",
  labels:{ingot:[493,935], plate:[548,918], ribbon:[610,921]}});
polPanel({r:[385,675,1033,1248], xDom:[-1.1,-0.4], xt:eTicksD, yDom:[-8.6,-1], yt:logTicks8, xtY:1280,
  data:{ribbon:jRibbon, plate:jPlate, ingot:jIngot},
  nacl:[399,1052], comp:[667,1054], compParts:compI, letter:[395,1235], letterText:"(j)",
  labels:{ingot:[452,1214,460,1201,470,1190], plate:[539,1197,545,1187,553,1174], ribbon:[612,1223,602,1210,596,1196]}});
polPanel({r:[387,675,1287,1499], xDom:[-1.285,-0.2], xt:eTicksL, xMinor:eMinorL, yDom:[-8,-1], yt:logTicks8, xtY:1528,
  data:{ribbon:lRibbon, plate:lPlate, ingot:lIngot},
  nacl:[400,1309], comp:[667,1309], compParts:compK, letter:[395,1487], letterText:"(l)",
  labels:{ingot:[477,1458], plate:[535,1453], ribbon:[611,1463]}});
</script>
</body></html>
